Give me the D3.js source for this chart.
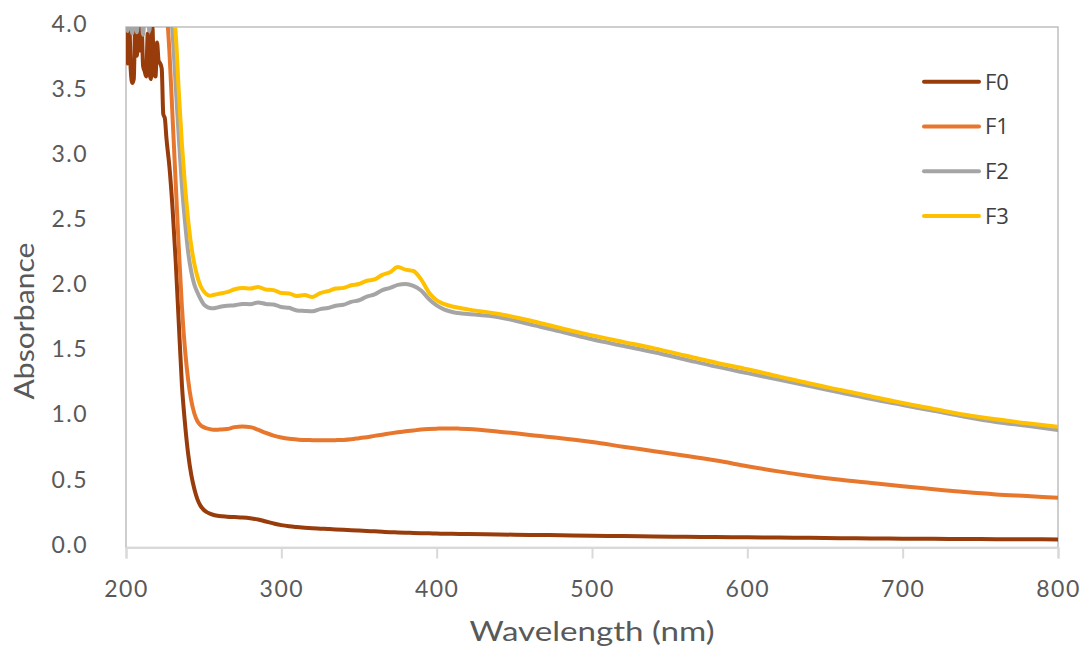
<!DOCTYPE html>
<meta charset="utf-8">
<head>
  <title>Absorbance spectra F0-F3</title>
</head>
<script src="https://d3js.org/d3.v7.min.js"></script>
<style>
  body { margin: 0; background: #fff; }
  .tick text { font-family: Lato, "Open Sans", sans-serif; }
</style>
<body>
<div id="chart"></div>
<script>
  // wavelength grid (nm), dense where the spectra are noisy / steep
  var wavelengths = [
    200, 201, 202, 203, 204, 205, 206, 207, 208, 209, 210, 211, 212, 213, 214, 215, 216, 217, 218, 219, 220, 221, 222, 223, 224, 225, 226,
    228, 230, 232, 234, 236, 238, 240, 242, 244, 246, 248, 250, 252, 254, 256, 258, 260,
    265, 270, 275, 280, 285, 290, 295, 300, 305, 310, 315, 320, 325, 330, 335, 340, 345, 350, 355, 360, 365, 370, 375, 380, 385, 390, 395, 400, 405, 410, 415, 420,
    440, 460, 480, 500, 520, 540, 560, 580, 600, 620, 640, 660, 680, 700, 720, 740, 760, 780, 800
  ];

  var f0 = [
    4.05, 3.72, 4.1, 3.68, 3.57, 3.6, 4.05, 3.78, 4.1, 3.82, 4.05, 3.7, 3.66, 3.62, 3.95, 3.66, 3.6, 4.0, 3.64, 3.62, 3.88, 3.74, 3.72, 3.68, 3.33, 3.3, 3.15,
    2.92, 2.6, 2.2, 1.72, 1.25, 0.95, 0.72, 0.56, 0.45, 0.37, 0.32, 0.29, 0.272, 0.26, 0.252, 0.246, 0.242,
    0.237, 0.234, 0.231, 0.225, 0.215, 0.2, 0.185, 0.172, 0.163, 0.157, 0.152, 0.148, 0.145, 0.142, 0.139, 0.136, 0.133, 0.13, 0.127, 0.124, 0.121, 0.118, 0.116, 0.114, 0.112, 0.11, 0.109, 0.107, 0.106, 0.105, 0.104, 0.103,
    0.1, 0.097, 0.094, 0.09, 0.088, 0.085, 0.082, 0.08, 0.078, 0.076, 0.074, 0.072, 0.07, 0.068, 0.067, 0.065, 0.064, 0.063, 0.062
  ];

  var f1 = [
    4.3, 4.3, 4.3, 4.3, 4.3, 4.3, 4.3, 4.3, 4.3, 4.3, 4.3, 4.3, 4.3, 4.3, 4.3, 4.3, 4.3, 4.3, 4.3, 4.3, 4.3, 4.3, 4.3, 4.3, 4.3, 4.25, 4.15,
    3.8, 3.3, 2.8, 2.3, 1.85, 1.52, 1.29, 1.13, 1.03, 0.97, 0.94, 0.925, 0.915, 0.91, 0.905, 0.905, 0.906,
    0.91, 0.925, 0.93, 0.925, 0.905, 0.88, 0.86, 0.845, 0.835, 0.83, 0.826, 0.825, 0.824, 0.824, 0.825, 0.827, 0.832, 0.84, 0.848, 0.858, 0.867, 0.877, 0.886, 0.894, 0.9, 0.906, 0.91, 0.913, 0.915, 0.915, 0.913, 0.91,
    0.89, 0.865, 0.84, 0.81, 0.775, 0.74, 0.705, 0.668, 0.625, 0.585, 0.55, 0.52, 0.495, 0.47, 0.448, 0.426, 0.408, 0.395, 0.382
  ];

  var f2 = [
    4.1, 3.97, 4.1, 4.1, 3.95, 4.1, 4.1, 3.96, 4.1, 4.1, 4.1, 3.94, 4.1, 4.1, 4.1, 3.97, 4.1, 4.1, 4.1, 4.1, 4.1, 4.1, 4.15, 4.2, 4.2, 4.2, 4.2,
    4.2, 3.95, 3.55, 3.15, 2.78, 2.5, 2.27, 2.12, 2.02, 1.96, 1.91, 1.87, 1.85, 1.84, 1.838, 1.842, 1.848,
    1.858, 1.862, 1.872, 1.87, 1.882, 1.872, 1.868, 1.848, 1.842, 1.822, 1.818, 1.815, 1.832, 1.84, 1.858, 1.865, 1.888, 1.9, 1.928, 1.945, 1.978, 1.995, 2.018, 2.025, 2.01, 1.975, 1.91, 1.86, 1.828, 1.81, 1.8, 1.795,
    1.77, 1.715, 1.66, 1.6, 1.55, 1.5, 1.445, 1.39, 1.34, 1.29, 1.24, 1.19, 1.14, 1.095, 1.05, 1.005, 0.965, 0.935, 0.903
  ];

  var f3 = [
    4.3, 4.3, 4.3, 4.3, 4.3, 4.3, 4.3, 4.3, 4.3, 4.3, 4.3, 4.3, 4.3, 4.3, 4.3, 4.3, 4.3, 4.3, 4.3, 4.3, 4.3, 4.3, 4.3, 4.3, 4.3, 4.3, 4.3,
    4.3, 4.2, 3.95, 3.5, 3.1, 2.78, 2.52, 2.32, 2.18, 2.08, 2.01, 1.97, 1.945, 1.935, 1.94, 1.945, 1.95,
    1.962, 1.985, 1.995, 1.99, 2.002, 1.982, 1.978, 1.955, 1.952, 1.932, 1.94, 1.925, 1.955, 1.97, 1.99, 1.995, 2.015, 2.025, 2.05, 2.06, 2.095, 2.115, 2.155, 2.135, 2.125, 2.06, 1.96, 1.9, 1.87, 1.852, 1.84, 1.83,
    1.795, 1.745, 1.685, 1.63, 1.58, 1.53, 1.475, 1.42, 1.37, 1.315, 1.26, 1.21, 1.16, 1.11, 1.065, 1.02, 0.985, 0.955, 0.928
  ];

  var seriesNames = ["F0", "F1", "F2", "F3"];
  var seriesValues = [f0, f1, f2, f3];
  var xTicks = [200, 300, 400, 500, 600, 700, 800];
  var yTicks = [0, 0.5, 1, 1.5, 2, 2.5, 3, 3.5, 4];

  var colors = ["#983c0c", "#e8772e", "#a5a5a5", "#ffc000"];

  var W = 1082, H = 648;
  var margin = { top: 27, right: 24, bottom: 100.5, left: 126 },
    width = W - margin.left - margin.right,
    height = H - margin.top - margin.bottom;

  var svg = d3.select("#chart")
    .append("svg")
    .attr("width", W)
    .attr("height", H)
    .style("display", "block");

  var g = svg.append("g")
    .attr("transform", "translate(" + margin.left + "," + margin.top + ")");

  var x = d3.scaleLinear().domain([200, 800]).range([0, width]);
  var y = d3.scaleLinear().domain([0, 4]).range([height, 0]);

  g.append("clipPath").attr("id", "plotclip")
    .append("rect")
    .attr("x", 0).attr("y", 0)
    .attr("width", width).attr("height", height);

  // plot area frame
  g.append("rect")
    .attr("x", 0).attr("y", 0)
    .attr("width", width).attr("height", height)
    .attr("fill", "none")
    .attr("stroke", "#bfbfbf")
    .attr("stroke-width", 1.5);

  // x axis
  var xAxis = g.append("g")
    .attr("transform", "translate(0," + height + ")")
    .call(d3.axisBottom(x).tickValues(xTicks).tickSize(11).tickPadding(22).tickFormat(d3.format("d")));
  xAxis.select(".domain").attr("stroke", "#d9d9d9").attr("stroke-width", 2);
  xAxis.selectAll(".tick line").attr("stroke", "#d9d9d9").attr("stroke-width", 2);
  xAxis.selectAll(".tick text")
    .attr("fill", "#595959")
    .style("font-size", "23px")
    .style("letter-spacing", "1.5px");

  // y axis (labels only)
  var yAxis = g.append("g")
    .call(d3.axisLeft(y).tickValues(yTicks).tickSize(0).tickPadding(38).tickFormat(d3.format(".1f")));
  yAxis.select(".domain").remove();
  yAxis.selectAll(".tick text")
    .attr("fill", "#595959")
    .attr("dy", "0.2em")
    .style("font-size", "23px")
    .style("letter-spacing", "1.5px");

  // lines
  var line = d3.line()
    .curve(d3.curveMonotoneX)
    .x(function (d, i) { return x(wavelengths[i]); })
    .y(function (d) { return y(d); });

  var lines = g.append("g").attr("clip-path", "url(#plotclip)");
  seriesValues.forEach(function (vals, k) {
    lines.append("path")
      .datum(vals)
      .attr("d", line)
      .attr("fill", "none")
      .attr("stroke", colors[k])
      .attr("stroke-width", 4)
      .attr("stroke-linejoin", "round")
      .attr("stroke-linecap", "round");
  });

  // axis titles
  svg.append("text")
    .attr("x", 592)
    .attr("y", 641)
    .attr("text-anchor", "middle")
    .attr("textLength", 245)
    .attr("lengthAdjust", "spacingAndGlyphs")
    .attr("fill", "#595959")
    .style("font-family", "Lato, 'Open Sans', sans-serif")
    .style("font-size", "26px")
    .text("Wavelength (nm)");

  svg.append("text")
    .attr("transform", "translate(34,321) rotate(-90)")
    .attr("text-anchor", "middle")
    .attr("textLength", 157)
    .attr("lengthAdjust", "spacingAndGlyphs")
    .attr("fill", "#595959")
    .style("font-family", "Lato, 'Open Sans', sans-serif")
    .style("font-size", "26px")
    .text("Absorbance");

  // legend
  var legend = svg.append("g");
  seriesNames.forEach(function (name, k) {
    var ly = 81.7 + k * 44.8;
    legend.append("line")
      .attr("x1", 924).attr("x2", 979)
      .attr("y1", ly).attr("y2", ly)
      .attr("stroke", colors[k])
      .attr("stroke-width", 4)
      .attr("stroke-linecap", "round");
    legend.append("text")
      .attr("x", 985)
      .attr("y", ly)
      .attr("dy", "0.36em")
      .attr("fill", "#404040")
      .style("font-family", "'Open Sans', sans-serif")
      .style("font-size", "22px")
      .text(name);
  });
</script>
</body>
